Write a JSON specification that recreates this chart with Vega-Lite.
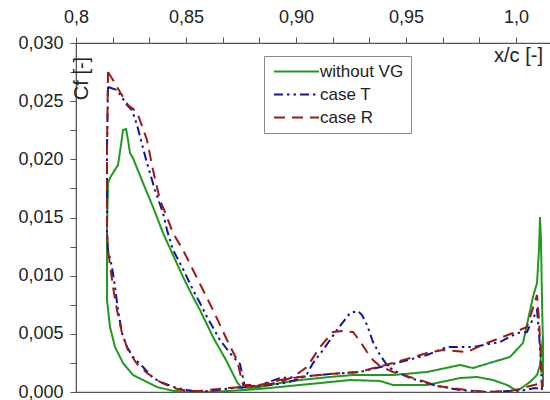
{
  "$schema": "https://vega.github.io/schema/vega-lite/v6.json",
  "width": 476,
  "height": 349,
  "autosize": {"type": "none"},
  "padding": {"left": 76, "top": 43, "right": 0, "bottom": 8},
  "config": {
    "font": "Liberation Sans",
    "view": {"stroke": "#555", "strokeWidth": 1.2},
    "axis": {"labelFontSize": 18, "titleFontSize": 20, "titleFontWeight": "normal", "labelColor": "#222", "titleColor": "#222", "domainColor": "#555", "tickColor": "#555"}
  },
  "data": {"values": [
      {"series":"without VG","part":"u","i":1,"x":0.81455,"y":0.01797},
      {"series":"without VG","part":"u","i":2,"x":0.81545,"y":0.01840},
      {"series":"without VG","part":"u","i":3,"x":0.81682,"y":0.01883},
      {"series":"without VG","part":"u","i":4,"x":0.81909,"y":0.01951},
      {"series":"without VG","part":"u","i":5,"x":0.82045,"y":0.02123},
      {"series":"without VG","part":"u","i":6,"x":0.82136,"y":0.02252},
      {"series":"without VG","part":"u","i":7,"x":0.82273,"y":0.02261},
      {"series":"without VG","part":"u","i":8,"x":0.82364,"y":0.02166},
      {"series":"without VG","part":"u","i":9,"x":0.82455,"y":0.02054},
      {"series":"without VG","part":"u","i":10,"x":0.82591,"y":0.02011},
      {"series":"without VG","part":"u","i":11,"x":0.83045,"y":0.01797},
      {"series":"without VG","part":"u","i":12,"x":0.83500,"y":0.01590},
      {"series":"without VG","part":"u","i":13,"x":0.83955,"y":0.01367},
      {"series":"without VG","part":"u","i":14,"x":0.84409,"y":0.01178},
      {"series":"without VG","part":"u","i":15,"x":0.84864,"y":0.00989},
      {"series":"without VG","part":"u","i":16,"x":0.85318,"y":0.00817},
      {"series":"without VG","part":"u","i":17,"x":0.85636,"y":0.00705},
      {"series":"without VG","part":"u","i":18,"x":0.86227,"y":0.00473},
      {"series":"without VG","part":"u","i":19,"x":0.86864,"y":0.00258},
      {"series":"without VG","part":"u","i":20,"x":0.87318,"y":0.00086},
      {"series":"without VG","part":"u","i":21,"x":0.87591,"y":0.00017},
      {"series":"without VG","part":"u","i":22,"x":0.88364,"y":0.00043},
      {"series":"without VG","part":"u","i":23,"x":0.89273,"y":0.00077},
      {"series":"without VG","part":"u","i":24,"x":0.90182,"y":0.00103},
      {"series":"without VG","part":"u","i":25,"x":0.91545,"y":0.00129},
      {"series":"without VG","part":"u","i":26,"x":0.92591,"y":0.00146},
      {"series":"without VG","part":"u","i":27,"x":0.93500,"y":0.00146},
      {"series":"without VG","part":"u","i":28,"x":0.94409,"y":0.00146},
      {"series":"without VG","part":"u","i":29,"x":0.95955,"y":0.00172},
      {"series":"without VG","part":"u","i":30,"x":0.97455,"y":0.00232},
      {"series":"without VG","part":"u","i":31,"x":0.98045,"y":0.00206},
      {"series":"without VG","part":"u","i":32,"x":0.98955,"y":0.00258},
      {"series":"without VG","part":"u","i":33,"x":0.99727,"y":0.00301},
      {"series":"without VG","part":"u","i":34,"x":1.00318,"y":0.00421},
      {"series":"without VG","part":"u","i":35,"x":1.00545,"y":0.00619},
      {"series":"without VG","part":"u","i":36,"x":1.00773,"y":0.00817},
      {"series":"without VG","part":"u","i":37,"x":1.00955,"y":0.00937},
      {"series":"without VG","part":"u","i":38,"x":1.01045,"y":0.01221},
      {"series":"without VG","part":"u","i":39,"x":1.01091,"y":0.01504},
      {"series":"without VG","part":"u","i":40,"x":1.01136,"y":0.01307},
      {"series":"without VG","part":"u","i":41,"x":1.01182,"y":0.00791},
      {"series":"without VG","part":"u","i":42,"x":1.01227,"y":0.00404},
      {"series":"without VG","part":"u","i":43,"x":1.01227,"y":0.00043},
      {"series":"without VG","part":"l","i":1,"x":0.81455,"y":0.01797},
      {"series":"without VG","part":"l","i":2,"x":0.81409,"y":0.01393},
      {"series":"without VG","part":"l","i":3,"x":0.81409,"y":0.01135},
      {"series":"without VG","part":"l","i":4,"x":0.81409,"y":0.00791},
      {"series":"without VG","part":"l","i":5,"x":0.81545,"y":0.00559},
      {"series":"without VG","part":"l","i":6,"x":0.81773,"y":0.00387},
      {"series":"without VG","part":"l","i":7,"x":0.82136,"y":0.00249},
      {"series":"without VG","part":"l","i":8,"x":0.82591,"y":0.00146},
      {"series":"without VG","part":"l","i":9,"x":0.83045,"y":0.00103},
      {"series":"without VG","part":"l","i":10,"x":0.83682,"y":0.00043},
      {"series":"without VG","part":"l","i":11,"x":0.84409,"y":0.00009},
      {"series":"without VG","part":"l","i":12,"x":0.85636,"y":0.0},
      {"series":"without VG","part":"l","i":13,"x":0.87000,"y":0.00009},
      {"series":"without VG","part":"l","i":14,"x":0.88364,"y":0.00026},
      {"series":"without VG","part":"l","i":15,"x":0.89727,"y":0.00052},
      {"series":"without VG","part":"l","i":16,"x":0.91091,"y":0.00077},
      {"series":"without VG","part":"l","i":17,"x":0.92455,"y":0.00103},
      {"series":"without VG","part":"l","i":18,"x":0.93818,"y":0.00095},
      {"series":"without VG","part":"l","i":19,"x":0.94409,"y":0.00060},
      {"series":"without VG","part":"l","i":20,"x":0.95955,"y":0.00060},
      {"series":"without VG","part":"l","i":21,"x":0.97455,"y":0.00120},
      {"series":"without VG","part":"l","i":22,"x":0.98227,"y":0.00129},
      {"series":"without VG","part":"l","i":23,"x":0.98955,"y":0.00103},
      {"series":"without VG","part":"l","i":24,"x":0.99591,"y":0.00060},
      {"series":"without VG","part":"l","i":25,"x":1.00045,"y":0.00009},
      {"series":"without VG","part":"l","i":26,"x":1.00318,"y":0.00043},
      {"series":"without VG","part":"l","i":27,"x":1.00636,"y":0.00086},
      {"series":"without VG","part":"l","i":28,"x":1.00955,"y":0.00146},
      {"series":"without VG","part":"l","i":29,"x":1.01091,"y":0.00232},
      {"series":"without VG","part":"l","i":30,"x":1.01227,"y":0.00473},
      {"series":"case T","part":"u","i":1,"x":0.81455,"y":0.02622},
      {"series":"case T","part":"u","i":2,"x":0.81864,"y":0.02596},
      {"series":"case T","part":"u","i":3,"x":0.82318,"y":0.02467},
      {"series":"case T","part":"u","i":4,"x":0.82545,"y":0.02424},
      {"series":"case T","part":"u","i":5,"x":0.82773,"y":0.02295},
      {"series":"case T","part":"u","i":6,"x":0.83227,"y":0.01968},
      {"series":"case T","part":"u","i":7,"x":0.83591,"y":0.01736},
      {"series":"case T","part":"u","i":8,"x":0.83955,"y":0.01539},
      {"series":"case T","part":"u","i":9,"x":0.84136,"y":0.01393},
      {"series":"case T","part":"u","i":10,"x":0.84409,"y":0.01221},
      {"series":"case T","part":"u","i":11,"x":0.84818,"y":0.01075},
      {"series":"case T","part":"u","i":12,"x":0.85318,"y":0.00877},
      {"series":"case T","part":"u","i":13,"x":0.85636,"y":0.00765},
      {"series":"case T","part":"u","i":14,"x":0.85955,"y":0.00645},
      {"series":"case T","part":"u","i":15,"x":0.86545,"y":0.00447},
      {"series":"case T","part":"u","i":16,"x":0.87136,"y":0.00301},
      {"series":"case T","part":"u","i":17,"x":0.87455,"y":0.00241},
      {"series":"case T","part":"u","i":18,"x":0.87682,"y":0.00043},
      {"series":"case T","part":"u","i":19,"x":0.88364,"y":0.00060},
      {"series":"case T","part":"u","i":20,"x":0.89273,"y":0.00120},
      {"series":"case T","part":"u","i":21,"x":0.90182,"y":0.00129},
      {"series":"case T","part":"u","i":22,"x":0.91545,"y":0.00155},
      {"series":"case T","part":"u","i":23,"x":0.92909,"y":0.00172},
      {"series":"case T","part":"u","i":24,"x":0.94409,"y":0.00241},
      {"series":"case T","part":"u","i":25,"x":0.95955,"y":0.00318},
      {"series":"case T","part":"u","i":26,"x":0.96864,"y":0.00387},
      {"series":"case T","part":"u","i":27,"x":0.98045,"y":0.00387},
      {"series":"case T","part":"u","i":28,"x":0.99273,"y":0.00430},
      {"series":"case T","part":"u","i":29,"x":1.00045,"y":0.00507},
      {"series":"case T","part":"u","i":30,"x":1.00500,"y":0.00516},
      {"series":"case T","part":"u","i":31,"x":1.00955,"y":0.00705},
      {"series":"case T","part":"u","i":32,"x":1.01045,"y":0.00507},
      {"series":"case T","part":"u","i":33,"x":1.01136,"y":0.00232},
      {"series":"case T","part":"u","i":34,"x":1.01182,"y":0.00017},
      {"series":"case T","part":"l","i":1,"x":0.81455,"y":0.02622},
      {"series":"case T","part":"l","i":2,"x":0.81409,"y":0.02080},
      {"series":"case T","part":"l","i":3,"x":0.81409,"y":0.01367},
      {"series":"case T","part":"l","i":4,"x":0.81455,"y":0.01221},
      {"series":"case T","part":"l","i":5,"x":0.81636,"y":0.01075},
      {"series":"case T","part":"l","i":6,"x":0.81773,"y":0.00903},
      {"series":"case T","part":"l","i":7,"x":0.81909,"y":0.00705},
      {"series":"case T","part":"l","i":8,"x":0.82091,"y":0.00507},
      {"series":"case T","part":"l","i":9,"x":0.82318,"y":0.00387},
      {"series":"case T","part":"l","i":10,"x":0.82591,"y":0.00301},
      {"series":"case T","part":"l","i":11,"x":0.83045,"y":0.00215},
      {"series":"case T","part":"l","i":12,"x":0.83500,"y":0.00120},
      {"series":"case T","part":"l","i":13,"x":0.83955,"y":0.00077},
      {"series":"case T","part":"l","i":14,"x":0.84591,"y":0.00034},
      {"series":"case T","part":"l","i":15,"x":0.85045,"y":0.00017},
      {"series":"case T","part":"l","i":16,"x":0.85636,"y":0.0},
      {"series":"case T","part":"l","i":17,"x":0.86409,"y":0.00017},
      {"series":"case T","part":"l","i":18,"x":0.87136,"y":0.00034},
      {"series":"case T","part":"l","i":19,"x":0.88364,"y":0.00052},
      {"series":"case T","part":"l","i":20,"x":0.89273,"y":0.00069},
      {"series":"case T","part":"l","i":21,"x":0.90182,"y":0.00112},
      {"series":"case T","part":"l","i":22,"x":0.90500,"y":0.00155},
      {"series":"case T","part":"l","i":23,"x":0.90773,"y":0.00249},
      {"series":"case T","part":"l","i":24,"x":0.91227,"y":0.00361},
      {"series":"case T","part":"l","i":25,"x":0.91864,"y":0.00533},
      {"series":"case T","part":"l","i":26,"x":0.92455,"y":0.00679},
      {"series":"case T","part":"l","i":27,"x":0.92818,"y":0.00696},
      {"series":"case T","part":"l","i":28,"x":0.93000,"y":0.00662},
      {"series":"case T","part":"l","i":29,"x":0.93227,"y":0.00576},
      {"series":"case T","part":"l","i":30,"x":0.93500,"y":0.00430},
      {"series":"case T","part":"l","i":31,"x":0.93818,"y":0.00318},
      {"series":"case T","part":"l","i":32,"x":0.94136,"y":0.00232},
      {"series":"case T","part":"l","i":33,"x":0.94409,"y":0.00189},
      {"series":"case T","part":"l","i":34,"x":0.95182,"y":0.00120},
      {"series":"case T","part":"l","i":35,"x":0.96409,"y":0.00052},
      {"series":"case T","part":"l","i":36,"x":0.97455,"y":0.00017},
      {"series":"case T","part":"l","i":37,"x":0.98682,"y":0.0},
      {"series":"case T","part":"l","i":38,"x":0.99727,"y":0.00009},
      {"series":"case T","part":"l","i":39,"x":1.00409,"y":0.00017},
      {"series":"case T","part":"l","i":40,"x":1.00864,"y":0.00034},
      {"series":"case T","part":"l","i":41,"x":1.01182,"y":0.00026},
      {"series":"case R","part":"u","i":1,"x":0.81455,"y":0.02751},
      {"series":"case R","part":"u","i":2,"x":0.81682,"y":0.02682},
      {"series":"case R","part":"u","i":3,"x":0.82000,"y":0.02579},
      {"series":"case R","part":"u","i":4,"x":0.82364,"y":0.02467},
      {"series":"case R","part":"u","i":5,"x":0.82773,"y":0.02407},
      {"series":"case R","part":"u","i":6,"x":0.83227,"y":0.02166},
      {"series":"case R","part":"u","i":7,"x":0.83500,"y":0.01908},
      {"series":"case R","part":"u","i":8,"x":0.83818,"y":0.01650},
      {"series":"case R","part":"u","i":9,"x":0.84045,"y":0.01547},
      {"series":"case R","part":"u","i":10,"x":0.84409,"y":0.01367},
      {"series":"case R","part":"u","i":11,"x":0.84864,"y":0.01221},
      {"series":"case R","part":"u","i":12,"x":0.85318,"y":0.01049},
      {"series":"case R","part":"u","i":13,"x":0.85773,"y":0.00877},
      {"series":"case R","part":"u","i":14,"x":0.86227,"y":0.00705},
      {"series":"case R","part":"u","i":15,"x":0.86864,"y":0.00447},
      {"series":"case R","part":"u","i":16,"x":0.87318,"y":0.00275},
      {"series":"case R","part":"u","i":17,"x":0.87591,"y":0.00060},
      {"series":"case R","part":"u","i":18,"x":0.88364,"y":0.00060},
      {"series":"case R","part":"u","i":19,"x":0.89273,"y":0.00103},
      {"series":"case R","part":"u","i":20,"x":0.90182,"y":0.00129},
      {"series":"case R","part":"u","i":21,"x":0.91545,"y":0.00155},
      {"series":"case R","part":"u","i":22,"x":0.92909,"y":0.00172},
      {"series":"case R","part":"u","i":23,"x":0.93364,"y":0.00198},
      {"series":"case R","part":"u","i":24,"x":0.94409,"y":0.00249},
      {"series":"case R","part":"u","i":25,"x":0.95955,"y":0.00335},
      {"series":"case R","part":"u","i":26,"x":0.96682,"y":0.00361},
      {"series":"case R","part":"u","i":27,"x":0.97773,"y":0.00344},
      {"series":"case R","part":"u","i":28,"x":0.98682,"y":0.00421},
      {"series":"case R","part":"u","i":29,"x":0.99864,"y":0.00507},
      {"series":"case R","part":"u","i":30,"x":1.00500,"y":0.00559},
      {"series":"case R","part":"u","i":31,"x":1.00955,"y":0.00834},
      {"series":"case R","part":"u","i":32,"x":1.01045,"y":0.00619},
      {"series":"case R","part":"u","i":33,"x":1.01136,"y":0.00275},
      {"series":"case R","part":"u","i":34,"x":1.01182,"y":0.00034},
      {"series":"case R","part":"l","i":1,"x":0.81455,"y":0.02751},
      {"series":"case R","part":"l","i":2,"x":0.81409,"y":0.02080},
      {"series":"case R","part":"l","i":3,"x":0.81409,"y":0.01393},
      {"series":"case R","part":"l","i":4,"x":0.81455,"y":0.01221},
      {"series":"case R","part":"l","i":5,"x":0.81682,"y":0.00903},
      {"series":"case R","part":"l","i":6,"x":0.81864,"y":0.00705},
      {"series":"case R","part":"l","i":7,"x":0.82091,"y":0.00507},
      {"series":"case R","part":"l","i":8,"x":0.82364,"y":0.00361},
      {"series":"case R","part":"l","i":9,"x":0.82773,"y":0.00241},
      {"series":"case R","part":"l","i":10,"x":0.83227,"y":0.00163},
      {"series":"case R","part":"l","i":11,"x":0.83818,"y":0.00086},
      {"series":"case R","part":"l","i":12,"x":0.84409,"y":0.00034},
      {"series":"case R","part":"l","i":13,"x":0.85045,"y":0.00009},
      {"series":"case R","part":"l","i":14,"x":0.85636,"y":0.00009},
      {"series":"case R","part":"l","i":15,"x":0.86864,"y":0.00034},
      {"series":"case R","part":"l","i":16,"x":0.88364,"y":0.00052},
      {"series":"case R","part":"l","i":17,"x":0.89273,"y":0.00086},
      {"series":"case R","part":"l","i":18,"x":0.89864,"y":0.00129},
      {"series":"case R","part":"l","i":19,"x":0.90500,"y":0.00215},
      {"series":"case R","part":"l","i":20,"x":0.91091,"y":0.00387},
      {"series":"case R","part":"l","i":21,"x":0.91682,"y":0.00516},
      {"series":"case R","part":"l","i":22,"x":0.92136,"y":0.00524},
      {"series":"case R","part":"l","i":23,"x":0.92591,"y":0.00516},
      {"series":"case R","part":"l","i":24,"x":0.92909,"y":0.00438},
      {"series":"case R","part":"l","i":25,"x":0.93227,"y":0.00344},
      {"series":"case R","part":"l","i":26,"x":0.93500,"y":0.00275},
      {"series":"case R","part":"l","i":27,"x":0.93818,"y":0.00223},
      {"series":"case R","part":"l","i":28,"x":0.94409,"y":0.00172},
      {"series":"case R","part":"l","i":29,"x":0.95636,"y":0.00103},
      {"series":"case R","part":"l","i":30,"x":0.96409,"y":0.00052},
      {"series":"case R","part":"l","i":31,"x":0.97773,"y":0.00017},
      {"series":"case R","part":"l","i":32,"x":0.98682,"y":0.0},
      {"series":"case R","part":"l","i":33,"x":0.99727,"y":0.00009},
      {"series":"case R","part":"l","i":34,"x":1.00182,"y":0.00026},
      {"series":"case R","part":"l","i":35,"x":1.00636,"y":0.00052},
      {"series":"case R","part":"l","i":36,"x":1.01000,"y":0.00069},
      {"series":"case R","part":"l","i":37,"x":1.01182,"y":0.00034}
  ]},
  "mark": {"type": "line", "strokeWidth": 2, "clip": true},
  "encoding": {
    "x": {
      "field": "x", "type": "quantitative",
      "scale": {"domain": [0.8, 1.016364], "nice": false, "zero": false},
      "axis": {
        "orient": "top",
        "grid": false,
        "ticks": true,
        "tickSize": 6,
        "values": [0.8, 0.816667, 0.833333, 0.85, 0.866667, 0.883333, 0.9, 0.916667, 0.933333, 0.95, 0.966667, 0.983333, 1.0],
        "labelExpr": "datum.value < 0.801 ? '0,8' : abs(datum.value - 0.85) < 0.001 ? '0,85' : abs(datum.value - 0.9) < 0.001 ? '0,90' : abs(datum.value - 0.95) < 0.001 ? '0,95' : abs(datum.value - 1) < 0.001 ? '1,0' : ''",
        "labelPadding": 11,
        "labelFlush": false,
        "labelOverlap": false,
        "labelBound": false,
        "title": "x/c [-]",
        "titleX": 442,
        "titleY": 22
      }
    },
    "y": {
      "field": "y", "type": "quantitative",
      "scale": {"domain": [0, 0.03], "nice": false},
      "axis": {
        "grid": false,
        "ticks": true,
        "tickSize": 6,
        "values": [0, 0.0025, 0.005, 0.0075, 0.01, 0.0125, 0.015, 0.0175, 0.02, 0.0225, 0.025, 0.0275, 0.03],
        "labelExpr": "round(datum.value * 400) % 2 == 0 ? replace(format(datum.value, '.3f'), '.', ',') : ''",
        "labelPadding": 7,
        "labelOverlap": false,
        "labelFlush": false,
        "title": "Cf [-]",
        "titleX": 15,
        "titleY": 35,
        "titleAngle": -90
      }
    },
    "color": {
      "field": "series", "type": "nominal",
      "scale": {"domain": ["without VG", "case T", "case R"], "range": ["#1f9a1f", "#14149c", "#9c1a1a"]},
      "legend": {
        "title": null,
        "orient": "none",
        "legendX": 188,
        "legendY": 13,
        "fillColor": "white",
        "strokeColor": "#888",
        "padding": 7,
        "labelFontSize": 17,
        "labelColor": "#222",
        "symbolType": "M-4.5,0H4.5",
        "symbolSize": 100,
        "symbolStrokeWidth": 2,
        "symbolOffset": 17,
        "labelOffset": 15,
        "rowPadding": 5
      }
    },
    "strokeDash": {
      "field": "series", "type": "nominal",
      "scale": {"domain": ["without VG", "case T", "case R"], "range": [[1, 0], [9, 4, 2.5, 4, 2.5, 4], [11, 7]]}
    },
    "detail": {"field": "part"},
    "order": {"field": "i", "type": "quantitative"}
  }
}
